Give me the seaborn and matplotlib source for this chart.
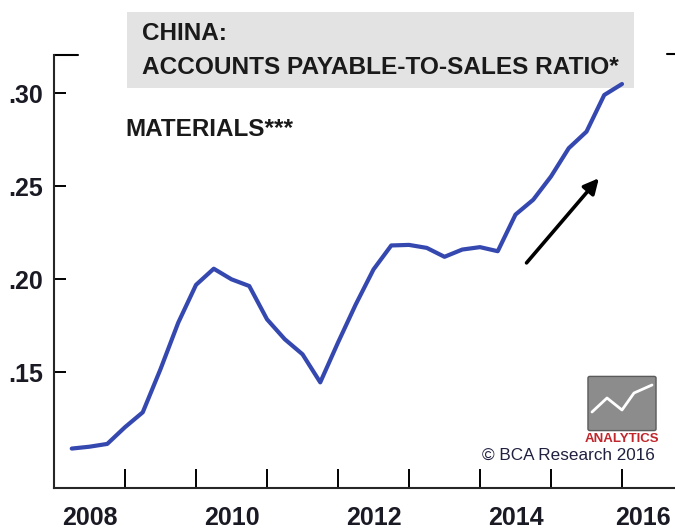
import pandas as pd
import seaborn as sns
import matplotlib.pyplot as plt
from matplotlib import font_manager
from matplotlib.patches import Rectangle, FancyBboxPatch

# quarterly readings, materials sector
quarters = [2008.25, 2008.5, 2008.75, 2009.0, 2009.25, 2009.5, 2009.75,
            2010.0, 2010.25, 2010.5, 2010.75, 2011.0, 2011.25, 2011.5, 2011.75,
            2012.0, 2012.25, 2012.5, 2012.75, 2013.0, 2013.25, 2013.5, 2013.75,
            2014.0, 2014.25, 2014.5, 2014.75, 2015.0, 2015.25, 2015.5, 2015.75,
            2016.0]
ratio = [0.109, 0.110, 0.1115, 0.1205, 0.1285, 0.1517, 0.1767,
         0.197, 0.2057, 0.200, 0.1964, 0.1785, 0.1678, 0.1597, 0.1446,
         0.166, 0.1865, 0.2053, 0.2182, 0.2185, 0.2169, 0.2121, 0.216,
         0.2173, 0.2151, 0.2348, 0.2428, 0.2553, 0.2705, 0.2794, 0.2991,
         0.305]
year_ticks = [2008, 2009, 2010, 2011, 2012, 2013, 2014, 2015, 2016]
year_labels = ["2008", "2010", "2012", "2014", "2016"]
y_ticks = [0.15, 0.20, 0.25, 0.30]
y_labels = [".15", ".20", ".25", ".30"]

df = pd.DataFrame({"date": quarters, "ratio": ratio})

sns.set_style("ticks")
installed = {f.name for f in font_manager.fontManager.ttflist}
narrow = "Liberation Sans Narrow" if "Liberation Sans Narrow" in installed else "Liberation Sans"
plt.rcParams["font.family"] = [narrow, "DejaVu Sans"]

W, H = 675, 529
fig = plt.figure(figsize=(W / 100, H / 100), dpi=100)
ax = fig.add_axes([54 / W, 1 - 488 / H, 639 / W, (488 - 55) / H])
ax.patch.set_alpha(0)

sns.lineplot(data=df, x="date", y="ratio", ax=ax, color="#3548b0", linewidth=3, zorder=3)

ax.set_xlim(2008, 2017)
ax.set_ylim(0.0878, 0.3206)
ax.set_xlabel("")
ax.set_ylabel("")

ax.set_xticks(year_ticks)
ax.set_xticklabels([])
# label sits mid-year; the last one is nudged so it stays inside the picture
label_pos = [int(y) + 0.5 for y in year_labels]
label_pos[-1] = 2016.3
ax.set_xticks(label_pos, minor=True)
ax.set_xticklabels(year_labels, minor=True)
ax.tick_params(axis="x", which="major", direction="in", length=14, width=1.4, color="black")
ax.tick_params(axis="x", which="minor", length=0, pad=13, labelsize=18, labelcolor="#1a1a24")
for t in ax.get_xticklabels(minor=True):
    t.set_fontweight("bold")

ax.set_yticks(y_ticks)
ax.set_yticklabels(y_labels)
ax.tick_params(axis="y", direction="in", length=8.5, width=1.4, color="black",
               pad=8, labelsize=18, labelcolor="#1a1a24")
for t in ax.get_yticklabels():
    t.set_fontweight("bold")

sns.despine(ax=ax)
ax.spines["left"].set_linewidth(1.5)
ax.spines["bottom"].set_linewidth(1.5)
# short caps at the top of the frame
ax.plot([0, 24 / 639], [1, 1], transform=ax.transAxes, color="black", lw=1.5, clip_on=False)
ax.plot([(667 - 54) / 639, (693 - 54) / 639], [1.003, 1.003], transform=ax.transAxes,
        color="black", lw=1.5, clip_on=False)

# arrow showing the trend
ax.annotate("", xy=(2015.7, 0.2555), xytext=(2014.63, 0.2077),
            arrowprops=dict(arrowstyle="-|>,head_length=0.9,head_width=0.45",
                            color="black", lw=2.6))

# title box
ax.add_patch(Rectangle((127 / W, 1 - 88 / H), 507 / W, 76 / H, transform=fig.transFigure,
                       facecolor="#e3e3e3", edgecolor="none", zorder=1, clip_on=False))
fig.text(142 / W, 1 - 33 / H, "CHINA:", fontsize=17.5, fontweight="bold",
         color="#1a1a1a", va="center", ha="left")
fig.text(142 / W, 1 - 68 / H, "ACCOUNTS PAYABLE-TO-SALES RATIO*", fontsize=17.6,
         fontweight="bold", color="#1a1a1a", va="center", ha="left")
fig.text(125 / W, 1 - 130 / H, "MATERIALS***", fontsize=17.5, fontweight="bold",
         color="#1a1a1a", va="center", ha="left")

# copyright and logo
fig.text(482 / W, 1 - 455 / H, "© BCA Research 2016", fontsize=12.3,
         family=["Liberation Sans", "DejaVu Sans"], color="#202040", va="center", ha="left")
ax.add_patch(FancyBboxPatch((590 / W, 1 - 429 / H), 64 / W, 51 / H,
                            boxstyle="round,pad=0.003", transform=fig.transFigure,
                            facecolor="#8c8c8c", edgecolor="#5a5a5a", lw=1, zorder=4, clip_on=False))
zig_x = [592, 607, 622, 634, 652]
zig_y = [412, 398, 410, 393, 385]
ax.plot([x / W for x in zig_x], [1 - y / H for y in zig_y], transform=fig.transFigure,
        color="white", lw=2, zorder=5, clip_on=False)
fig.text(622 / W, 1 - 439 / H, "ANALYTICS", fontsize=9.5, fontweight="bold",
         color="#c0262c", va="center", ha="center")

fig.savefig("out.png", dpi=100)
